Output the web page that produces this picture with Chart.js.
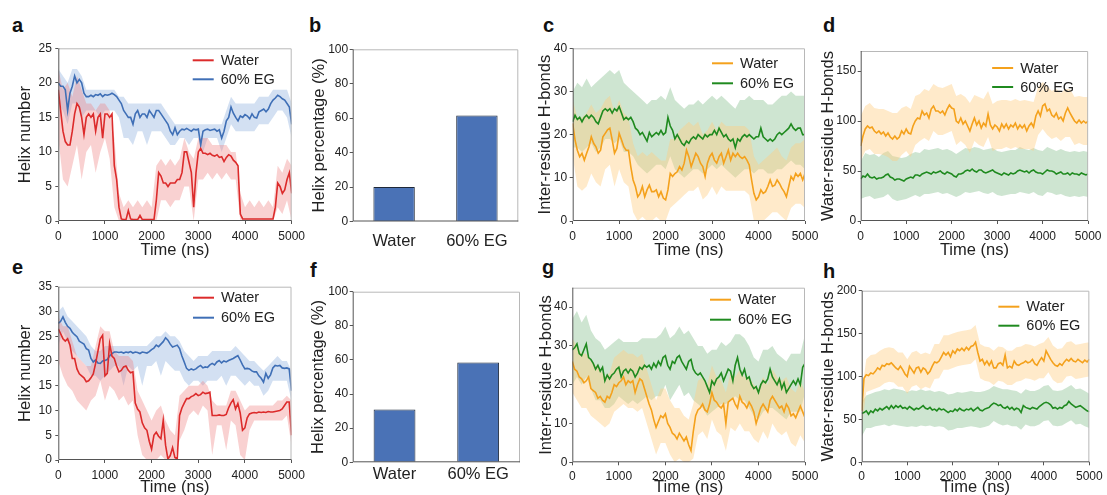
<!DOCTYPE html>
<html><head><meta charset="utf-8">
<script src="https://cdn.jsdelivr.net/npm/chart.js@4.4.0/dist/chart.umd.min.js"></script>
<style>
html,body{margin:0;padding:0;background:#fff;width:1107px;height:495px;overflow:hidden;position:relative}
canvas{position:absolute;left:0;top:0}
.lbl{position:absolute;font:bold 20px "Liberation Sans",Arial,sans-serif;line-height:20px;color:#111}
</style></head><body>
<div class="lbl" style="left:12px;top:15px">a</div>
<div class="lbl" style="left:309px;top:15px">b</div>
<div class="lbl" style="left:543px;top:15px">c</div>
<div class="lbl" style="left:823px;top:15px">d</div>
<div class="lbl" style="left:12px;top:257px">e</div>
<div class="lbl" style="left:310px;top:260px">f</div>
<div class="lbl" style="left:542px;top:257px">g</div>
<div class="lbl" style="left:823px;top:261px">h</div>
<canvas id="ca" width="1107" height="495"></canvas>
<canvas id="cb" width="1107" height="495"></canvas>
<canvas id="cc" width="1107" height="495"></canvas>
<canvas id="cd" width="1107" height="495"></canvas>
<canvas id="ce" width="1107" height="495"></canvas>
<canvas id="cf" width="1107" height="495"></canvas>
<canvas id="cg" width="1107" height="495"></canvas>
<canvas id="ch" width="1107" height="495"></canvas>
<script>
// ---------- DATA ----------
const SERIES_NAMES = ['Water', '60% EG'];
const BAR_CATS = ['Water', '60% EG'];
const B_VALS = [20, 61.5];
const F_VALS = [31, 58.5];
const LINE_STEP = 50;   // ns between mean-line samples
const BAND_STEP = 100;  // ns between band samples

// panel a (helix number)
const A_W = [19,16,13,11.5,11,11,13,15.5,17,16.5, 15,12.5,15,15.5,15,15.5,13,15,15.5,12, 15.5,15.5,15,15.5,8,6,2,0.3,0.2,0.2, 1.5,0.3,0.2,0.2,0.2,0.8,0.2,0.2,0.2,0.2, 0.2,0.2,3,7,6.5,5.5,5.5,5,5.5,5.5, 5.5,6,6,7,10,10,8.5,7,2,7, 10,10.5,9.8,9.8,9.6,9.8,9.5,9.4,9.6,9.2, 9.3,8.6,9.2,9.6,9.4,8.8,8.5,8,1,0.3, 0.3,0.3,0.3,0.3,0.3,0.3,0.3,0.3,0.3,0.3, 0.3,0.3,0.3,2,5.5,5,4,4.5,6,7, 4];
const A_E = [20,19.5,19.5,19,16,18.5,19.5,21,20,20.5, 20,18.5,18,18,18.2,18,18.3,18.2,18.4,18, 18.3,18.2,18.3,18.5,18.3,18,17.5,17,16,15.5, 15,15,14,15.5,16,15,15.5,15.5,15,16, 15.5,15,16,16,15.5,15,14.5,14,13,12.5, 13.5,12.5,13,13.3,13.2,13.4,13.2,13,13.3,13.2, 13.3,11,13,13.2,13.3,13.1,13.2,13.3,13,13.2, 12,13,14.5,15,16.5,15.6,15,14.5,15.2,15, 15.4,15.2,14.8,15.5,15,14.9,15.8,16,16.2,15.8, 16.2,17,17.5,17.8,18.2,18,17.7,17.5,17,16.5, 14];
const A_WU = [22,19,20,18,21,19,17,17,16,17, 17,16,12,4,2,3,2,3,2,3, 2,8,9,8,9,8,9,12,10,9, 12,12,12,11,11,11,11,10,10,4, 2,3,2,3,2,3,2,8,7,9, 8];
const A_WL = [12,6,5,8,11,6,10,11,7,10, 12,9,2,0,0,0,0,0,0,0, 0,0,3,3,2,3,3,5,5,0, 6,6,7,6,7,6,7,6,6,0, 0,0,0,0,0,0,0,2,1,3, 0];
const A_EU = [22,21,20,22,22,21,19,19,19,19, 19,19,19,18,18,17,17,17,17,17, 17,17,17,16,15,14,14,14,14,14, 14,14,14,14,14,14,16,18,17,17, 17,17,17,18,18,18,19,19,19,19, 17];
const A_EL = [17,16,14,17,17,15,16,16,16,15, 16,16,16,15,12,12,11,13,13,11, 13,13,13,12,11,11,12,12,11,12, 12,10,12,12,12,10,12,14,13,13, 13,13,13,14,14,14,15,16,16,15, 12];

// panel c (inter-residue H-bonds)
const C_W = [22.6,18.8,16.4,14.9,15.7,14.1,15.7,17.2,19.5,18, 17.2,15.7,16.4,19.5,20.3,21.1,21.5,18.8,15.7,16.8, 20.3,18.8,17.2,16.4,16.4,12.6,9.5,8,5.6,6.4, 8,5.6,7.2,8.3,6.8,6.8,7.2,5.6,6.8,5.3, 4.9,7.2,11,10.3,11,11.4,12.6,11.8,13.4,16.4, 14.9,12.6,14.1,15.7,14.9,13.4,12.6,10.3,13.4,14.9, 15.7,14.1,13.4,14.9,15.7,13.4,14.9,16.4,14.1,15.7, 14.9,15.7,14.9,14.5,14.9,14.1,13,9.5,6.4,4.9, 5.6,7.2,6.4,6.8,8,9.5,8,8.3,9.5,8.7, 7.6,6.8,5.6,8,10.3,9.5,11,10.3,11,9.5, 11];
const C_E = [23,24.5,23.5,24,23,24,24.5,23.8,24.5,24, 23,22.5,24,25.5,26,25.5,26,25,26,25.5, 26.5,25,23.5,24,23.5,24,23,21.5,21,20, 20.5,19.5,18.5,20.5,19.5,20,20.5,20,21,20, 20.5,24,22,21,19,20,19,18,17.5,18.5, 18,19,19.5,19,20,19.5,19,20,19.5,20, 20,21,20,21.5,20.5,19.5,20,19,18.5,19, 17,19,18.5,19.5,20,19.5,20,19.5,19,19.5, 19.5,21.5,19.5,19,18.5,19,18.5,19,20,20.5, 20,20.5,21,21.5,22.5,21.5,21,21.5,21.5,20, 20];
const C_WU = [28,24,24,25,27,25,26,28,29,25, 28,25,24,18,15,16,15,16,15,14, 14,19,19,21,22,23,22,23,20,21, 23,21,23,22,22,22,22,22,21,15, 13,14,15,16,17,15,14,17,18,18, 19];
const C_WL = [15,8,7,8,11,9,8,12,13,8, 12,9,8,2,0,1,0,0,1,0, 0,3,4,5,6,7,7,8,5,6, 8,6,8,7,7,7,7,7,6,0, 0,0,1,2,2,1,0,3,4,4, 3];
const C_EU = [30,32,31,33,31,32,33,34,35,34, 35,32,31,30,29,28,27,28,28,29, 28,31,28,27,26,27,27,28,27,28, 29,28,29,28,27,26,28,28,29,28, 28,28,27,27,28,29,29,30,29,29, 29];
const C_EL = [17,17,16,17,18,16,17,19,19,18, 19,16,16,15,13,12,11,12,13,13, 12,15,12,11,10,11,12,12,11,12, 13,12,13,12,11,10,11,12,12,11, 12,12,11,11,12,12,13,14,13,13, 12];

// panel d (water-residue H-bonds)
const D_W = [75,85,92,95,93,94,90,88,90,87, 89,85,88,84,82,85,82,84,90,87, 92,88,87,95,100,103,102,110,106,108, 103,112,115,110,110,108,110,106,112,116, 113,112,100,98,103,97,100,95,90,97, 103,96,100,93,98,95,107,96,92,96, 94,90,97,93,97,92,96,94,98,92, 96,93,96,90,95,98,94,105,110,105, 115,117,110,112,106,104,108,102,104,100, 108,113,108,104,100,98,101,98,100,98, 100];
const D_E = [42,45,44,47,44,43,44,42,43,43, 44,46,47,44,43,41,42,42,41,40, 42,43,44,43,46,46,45,47,48,49, 48,47,49,48,49,50,48,47,49,48, 47,45,44,47,47,48,50,51,50,52, 50,49,51,51,49,48,49,50,51,49, 48,47,46,48,47,46,48,47,48,50, 51,50,49,50,48,50,51,49,48,48, 47,49,51,50,50,49,47,48,49,47, 47,48,46,48,47,47,46,48,47,46, 47];
const D_WU = [105,115,118,113,112,112,110,108,108,113, 115,112,125,127,132,130,137,134,133,135, 137,125,127,124,118,126,124,122,130,117, 120,121,121,120,122,120,121,120,119,134, 139,135,130,132,128,132,132,124,125,124, 124];
const D_WL = [60,70,72,67,67,66,64,60,60,66, 70,64,76,80,83,80,90,86,86,88, 90,76,80,76,68,80,76,74,84,70, 72,72,74,72,74,72,72,72,70,86, 92,86,82,84,80,84,84,76,78,76, 76];
const D_EU = [60,68,66,67,64,68,70,65,64,63, 64,67,69,68,72,71,72,73,71,72, 70,67,70,73,72,74,73,71,72,73, 70,69,70,71,71,74,72,71,73,71, 70,74,72,70,72,70,69,70,69,70, 69];
const D_EL = [22,24,25,22,23,24,27,22,20,21, 22,24,26,24,27,27,28,29,27,28, 26,24,26,29,28,29,30,28,27,29, 26,25,26,27,27,29,28,27,29,26, 25,29,28,26,27,25,24,25,24,25, 24];

// panel e (helix number)
const E_W = [26.5,25.5,24.5,24,24.5,23.2,20.5,20.5,18.4,17.4, 17,16.6,15.8,16,16.6,17.4,19.5,22,24.5,25.2, 17,17.5,23.5,21,20.5,19,17.8,18.1,18.8,19, 18.1,17.6,17.8,11.5,10.3,9.7,7.5,6.5,6,3.8, 2.2,5,5.6,4.8,4.3,8,3,0.2,0.9,2.5, 0.5,0.2,9,10.5,11.5,12.4,12.4,12.8,13,13.4, 13,13.2,13.7,13.4,13.5,13.7,9,9,9,9.1, 9,9,9.2,10.5,11.5,12.2,10.3,11.4,9.5,6, 6.5,8.5,9.3,9.5,9.6,9.5,9.7,9.6,9.7,9.6, 9.8,9.7,9.7,9.8,9.9,10,10.3,11,11.7,11.7, 5];
const E_E = [27.6,28,28.9,27.8,27,26.6,25.8,25.3,24.9,24, 23.7,23.4,22.5,22.2,20.5,19.8,20.2,19.6,19.5,20, 20.1,20.3,21,21.5,21.8,21.8,21.7,21.8,21.6,21.8, 21.7,21.9,21.6,21.8,21.7,21.5,21.8,21.7,21.6,21.9, 22.3,22.6,23.2,22.9,23.4,23.9,24.7,24.2,23.4,22.8, 23,23.2,22.5,21,19.8,18.5,18.1,18.4,18.2,18.4, 18.8,19.1,18.6,18.8,18.7,19.2,19.5,19.2,19.8,20.1, 19.6,20,19.8,20.1,20.3,20.5,20.8,21.1,20.2,19.2, 18.4,18.5,18.4,18,17.8,17.8,17,16.5,15.7,17.5, 16.5,17.2,18.6,19.1,19,19.1,18.6,18.5,18.6,18.4, 14];
const E_WU = [29,27,27,24,21,20,19,19,23,27, 26,26,22,21,21,21,20,14,12,10, 8,10,11,8,6,5,13,14,15,15, 15,16,15,12,11,11,11,14,14,12, 10,11,11,11,11,11,11,12,12,13, 12];
const E_WL = [20,17,15,14,12,11,10,12,13,16, 12,15,14,12,13,11,12,5,1,0, 0,0,1,0,0,0,4,6,9,10, 9,11,10,1,7,7,2,8,7,1, 0,6,8,8,8,8,8,8,8,9, 3];
const E_EU = [30,31,29,28,27,26,25,23,22,22, 23,23,23,23,23,23,23,23,23,23, 24,25,25,26,25,25,24,22,21,20, 21,21,21,22,22,22,22,22,23,22, 21,20,20,19,18,19,20,21,20,20, 18];
const E_EL = [23,26,24,22,21,20,19,17,17,16, 17,18,19,19,15,19,18,19,15,19, 19,20,17,20,19,18,18,16,15,16, 16,15,16,16,16,17,15,17,17,16, 15,16,15,15,13,14,16,16,16,16, 12];

// panel g (inter-residue H-bonds)
const G_W = [26,24,23.5,22,21.5,20.5,21,22,19,18.5, 18,16.5,17,16,15.5,17,16.5,18,20,19.5, 20.5,21,22,20,21,20.5,21,18,20,21.5, 21,19,17,15,13.5,11,9,10.5,12,11.5, 12.5,10,9,7.5,7,6,7.5,6.5,5.5,6.5, 4.5,3,8,12,13.5,14,15,13.5,13,15, 18,16,15.5,14.5,14,15,10,15.5,16,16.5, 15,14,17,15.5,15,14,15.5,14.5,13,10, 12,14,15,14,13,16,17,16,15,14, 14.5,13,15,14,12,12.5,11.5,13,14.5,13, 11.5];
const G_E = [29,29.5,30.5,28,27.5,29,30.5,27,26.5,25.5, 24,25,23.5,24.5,21,22.5,21.5,22.5,23,24, 24.5,22,23.5,24,23,24,23.5,22,23,24.5, 24,25,24.5,25,24,25.5,24.5,26,25,27, 27.5,25,24,26,25.5,27,27.5,26,25,24, 26,26.5,24,23,22.5,23,22,21,19.5,18, 21,20,21.5,22,23,21,22.5,24,23.5,21, 25,27,24,22.5,24,21.5,22,20,19,19.5, 18,20,21,20.5,21.5,24,22,21,20,21.5, 19,20.5,18,19,20,21,20,21.5,20,24.5, 25.5];
const G_WU = [32,30,28,28,26,25,24,22,23,27, 28,29,28,28,27,28,24,20,16,19, 19,16,14,14,12,11,15,21,22,20, 25,22,21,18,23,22,24,22,22,20, 19,22,20,24,22,21,22,19,18,21, 18];
const G_WL = [18,16,14,14,12,11,10,9,10,13, 14,15,14,14,13,14,10,6,2,5, 5,2,0,1,0,0,1,7,8,6, 11,8,7,3,9,8,10,8,8,6, 5,8,6,10,8,7,8,5,4,7, 5];
const G_EU = [37,39,36,38,34,32,31,29,30,31, 32,31,31,31,31,32,32,32,32,33, 35,32,33,35,33,34,32,30,30,28, 29,29,31,30,31,33,33,32,30,27, 26,29,29,30,28,27,26,28,28,28, 33];
const G_EL = [20,22,20,22,19,16,16,14,14,15, 17,16,15,16,15,16,17,16,17,17, 20,16,18,20,17,18,16,15,14,12, 13,14,15,15,16,17,16,16,14,12, 11,13,14,14,13,12,11,13,13,13, 18];

// panel h (water-residue H-bonds)
const H_W = [60,98,102,101,104,103,106,110,108,113, 112,115,114,116,113,110,108,112,108,103, 100,112,108,104,110,111,105,110,108,103, 106,112,117,116,118,123,128,125,128,123, 130,127,132,130,133,130,134,131,135,136, 140,128,118,120,114,118,113,118,110,110, 115,116,113,125,110,112,110,118,114,113, 115,116,118,116,117,120,115,113,118,122, 118,130,125,120,116,113,112,115,113,117, 120,118,121,118,117,120,118,116,119,117, 120];
const H_E = [57,58,60,56,60,58,62,60,63,61, 63,65,62,66,63,66,64,66,63,64, 62,65,63,61,63,62,64,66,63,62, 64,61,62,60,63,61,62,60,58,60, 59,62,60,63,61,60,62,61,63,60, 62,64,61,60,62,63,64,67,69,68, 66,67,64,63,65,62,64,61,63,62, 58,66,64,63,62,64,63,62,65,67, 69,70,69,67,63,64,62,64,63,66, 67,71,68,66,64,65,66,64,62,60, 59];
const H_WU = [80,120,125,126,130,133,134,133,128,128, 120,128,130,126,128,126,138,138,148,148, 150,152,153,154,155,160,138,135,134,130, 135,134,130,130,134,135,138,137,135,138, 140,146,136,132,133,140,141,137,138,139, 140];
const H_WL = [40,82,84,86,88,92,94,93,88,88, 80,88,90,85,88,86,97,98,108,108, 110,112,113,114,115,120,98,95,94,90, 95,94,90,90,94,95,98,97,95,98, 98,105,96,92,93,100,101,97,98,99, 100];
const H_EU = [70,78,80,82,83,85,84,86,85,84, 82,84,83,85,83,84,82,83,82,79, 80,82,81,82,83,82,82,83,85,89, 87,85,85,84,83,80,85,83,83,85, 89,90,84,83,84,87,90,85,86,83, 80];
const H_EL = [30,40,40,42,43,44,42,44,43,42, 41,42,41,43,42,43,41,42,41,37, 38,40,40,41,42,41,40,41,43,48, 45,43,44,42,42,38,44,42,42,44, 48,49,43,42,43,46,49,44,45,42, 40];

// ---------- STYLE ----------
const FONT = '"Liberation Sans", Arial, Helvetica, sans-serif';
Chart.defaults.font.family = FONT;
Chart.defaults.color = '#222';
const RED = '#dc2b2b', RED_BAND = 'rgba(238,128,128,0.36)';
const BLUE = '#3f6fb6', BLUE_BAND = 'rgba(150,182,224,0.42)';
const ORANGE = '#f4a11c', ORANGE_BAND = 'rgba(255,204,128,0.42)';
const GREEN = '#1f8a1f', GREEN_BAND = 'rgba(110,180,120,0.34)';
const W = 1107, H = 495;

function pts(vals, step) { return vals.map((v, i) => ({x: i * step, y: v})); }

const framePlugin = {
  id: 'frame',
  afterDatasetsDraw(chart) {
    const {ctx, chartArea: a} = chart;
    ctx.save();
    ctx.lineWidth = 1;
    ctx.strokeStyle = '#b8b8b8';
    ctx.beginPath();
    ctx.moveTo(a.left, a.top + 0.5); ctx.lineTo(a.right - 0.5, a.top + 0.5); ctx.lineTo(a.right - 0.5, a.bottom);
    ctx.stroke();
    ctx.strokeStyle = '#555';
    ctx.beginPath();
    ctx.moveTo(a.left + 0.5, a.top); ctx.lineTo(a.left + 0.5, a.bottom - 0.5); ctx.lineTo(a.right, a.bottom - 0.5);
    ctx.stroke();
    ctx.restore();
  }
};
const legendPlugin = {
  id: 'insetLegend',
  afterDraw(chart, args, o) {
    if (!o || !o.items) return;
    const {ctx, chartArea: a} = chart;
    ctx.save();
    ctx.font = '14.5px ' + FONT;
    ctx.textBaseline = 'middle';
    o.items.forEach((it, i) => {
      const x = a.right - o.dx, y = a.top + o.dy + i * o.gap;
      ctx.strokeStyle = it.color; ctx.lineWidth = 2;
      ctx.beginPath(); ctx.moveTo(x, y); ctx.lineTo(x + 21, y); ctx.stroke();
      ctx.fillStyle = '#222';
      ctx.fillText(it.text, x + 28, y + 0.5);
    });
    ctx.restore();
  }
};

function tickGrid() {
  return {display: true, drawOnChartArea: false, drawTicks: true, tickLength: 3, color: '#555'};
}

function lineChart(id, P) {
  const [sw, se] = P.series;
  const datasets = [
    {data: pts(sw.mean, LINE_STEP), borderColor: sw.color, borderWidth: 1.6, pointRadius: 0, fill: false, order: 0},
    {data: pts(se.mean, LINE_STEP), borderColor: se.color, borderWidth: 1.6, pointRadius: 0, fill: false, order: 1},
    {data: pts(sw.lo, BAND_STEP), borderColor: 'rgba(0,0,0,0)', borderWidth: 0, pointRadius: 0, fill: false, order: 2},
    {data: pts(sw.hi, BAND_STEP), borderColor: 'rgba(0,0,0,0)', borderWidth: 0, pointRadius: 0, fill: {target: 2}, backgroundColor: sw.band, order: 3},
    {data: pts(se.lo, BAND_STEP), borderColor: 'rgba(0,0,0,0)', borderWidth: 0, pointRadius: 0, fill: false, order: 4},
    {data: pts(se.hi, BAND_STEP), borderColor: 'rgba(0,0,0,0)', borderWidth: 0, pointRadius: 0, fill: {target: 4}, backgroundColor: se.band, order: 5},
  ];
  new Chart(document.getElementById(id), {
    type: 'line',
    data: {datasets},
    plugins: [framePlugin, legendPlugin],
    options: {
      responsive: false, animation: false, devicePixelRatio: 1,
      layout: {padding: {left: P.l - P.wy, right: W - P.r, top: P.t, bottom: H - P.b - P.hx}},
      plugins: {
        legend: {display: false}, tooltip: {enabled: false},
        insetLegend: {items: [{text: SERIES_NAMES[0], color: sw.color}, {text: SERIES_NAMES[1], color: se.color}], dx: P.lg[0], dy: P.lg[1], gap: P.lg[2]}
      },
      scales: {
        x: {
          type: 'linear', min: 0, max: 5000,
          ticks: {stepSize: 1000, maxRotation: 0, autoSkip: false, padding: P.xpad, font: {size: 12}, color: '#222', callback: v => String(v)},
          grid: tickGrid(), border: {display: false},
          title: {display: true, text: 'Time (ns)', font: {size: 16.5, lineHeight: 1}, padding: 0, color: '#222'},
          afterFit(s) { s.height = P.hx; }
        },
        y: {
          min: P.ymin, max: P.ymax,
          ticks: {stepSize: P.step, includeBounds: false, padding: P.ypad, font: {size: 12}, color: '#222'},
          grid: tickGrid(), border: {display: false},
          title: {display: true, text: P.ytitle, font: {size: 16.5, lineHeight: 1}, padding: 0, color: '#222'},
          afterFit(s) { s.width = P.wy; }
        }
      }
    }
  });
}

function barChart(id, vals, P) {
  new Chart(document.getElementById(id), {
    type: 'bar',
    data: {labels: BAR_CATS, datasets: [{data: vals, backgroundColor: '#4a72b6', borderColor: '#1e2838', borderWidth: 1, barPercentage: 0.5, categoryPercentage: 1}]},
    plugins: [framePlugin],
    options: {
      responsive: false, animation: false, devicePixelRatio: 1,
      layout: {padding: {left: P.l - P.wy, right: W - P.r, top: P.t, bottom: H - P.b - 32}},
      plugins: {legend: {display: false}, tooltip: {enabled: false}},
      scales: {
        x: {
          grid: {display: false, drawTicks: false, tickLength: 0}, border: {display: false},
          ticks: {font: {size: 16.5}, padding: P.xpad, color: '#222', maxRotation: 0},
          afterFit(s) { s.height = 32; }
        },
        y: {
          min: 0, max: 100,
          ticks: {stepSize: 20, padding: P.ypad, font: {size: 12}, color: '#222'},
          grid: tickGrid(), border: {display: false},
          title: {display: true, text: 'Helix percentage (%)', font: {size: 16.5, lineHeight: 1}, padding: 0, color: '#222'},
          afterFit(s) { s.width = P.wy; }
        }
      }
    }
  });
}

lineChart('ca', {l: 58.3, r: 291.7, t: 48.3, b: 221, wy: 41.5, hx: 37.25, xpad: 5.5, ypad: 3.5, ymin: 0, ymax: 25, step: 5,
  ytitle: 'Helix number', lg: [99, 12, 19],
  series: [{mean: A_W, lo: A_WL, hi: A_WU, color: RED, band: RED_BAND}, {mean: A_E, lo: A_EL, hi: A_EU, color: BLUE, band: BLUE_BAND}]});
barChart('cb', B_VALS, {l: 352.7, r: 518.3, t: 49.3, b: 221.5, wy: 41, xpad: 10.5, ypad: 1.5});
lineChart('cc', {l: 572.7, r: 805, t: 48.3, b: 221, wy: 35, hx: 37.25, xpad: 5.5, ypad: 2.5, ymin: 0, ymax: 40, step: 10,
  ytitle: 'Inter-residue H-bonds', lg: [93, 15, 20],
  series: [{mean: C_W, lo: C_WL, hi: C_WU, color: ORANGE, band: ORANGE_BAND}, {mean: C_E, lo: C_EL, hi: C_EU, color: GREEN, band: GREEN_BAND}]});
lineChart('cd', {l: 860.7, r: 1089.3, t: 51, b: 221, wy: 40, hx: 37.25, xpad: 5.5, ypad: 1.5, ymin: 0, ymax: 170, step: 50,
  ytitle: 'Water-residue H-bonds', lg: [96, 17, 19],
  series: [{mean: D_W, lo: D_WL, hi: D_WU, color: ORANGE, band: ORANGE_BAND}, {mean: D_E, lo: D_EL, hi: D_EU, color: GREEN, band: GREEN_BAND}]});
lineChart('ce', {l: 58.3, r: 291.5, t: 286.7, b: 460, wy: 41.5, hx: 35.25, xpad: 5.5, ypad: 3.5, ymin: 0, ymax: 35, step: 5,
  ytitle: 'Helix number', lg: [98.5, 11, 20],
  series: [{mean: E_W, lo: E_WL, hi: E_WU, color: RED, band: RED_BAND}, {mean: E_E, lo: E_EL, hi: E_EU, color: BLUE, band: BLUE_BAND}]});
barChart('cf', F_VALS, {l: 352.7, r: 520, t: 291.7, b: 462.3, wy: 42, xpad: 2, ypad: 1.5});
lineChart('cg', {l: 572.3, r: 805, t: 287.7, b: 462.3, wy: 34.5, hx: 33, xpad: 4.3, ypad: 2, ymin: 0, ymax: 45, step: 10,
  ytitle: 'Inter-residue H-bonds', lg: [95, 12, 20],
  series: [{mean: G_W, lo: G_WL, hi: G_WU, color: ORANGE, band: ORANGE_BAND}, {mean: G_E, lo: G_EL, hi: G_EU, color: GREEN, band: GREEN_BAND}]});
lineChart('ch', {l: 861.7, r: 1091, t: 290.7, b: 462.3, wy: 41, hx: 33, xpad: 4.3, ypad: 2, ymin: 0, ymax: 200, step: 50,
  ytitle: 'Water-residue H-bonds', lg: [91, 16, 19],
  series: [{mean: H_W, lo: H_WL, hi: H_WU, color: ORANGE, band: ORANGE_BAND}, {mean: H_E, lo: H_EL, hi: H_EU, color: GREEN, band: GREEN_BAND}]});
</script>
</body></html>
